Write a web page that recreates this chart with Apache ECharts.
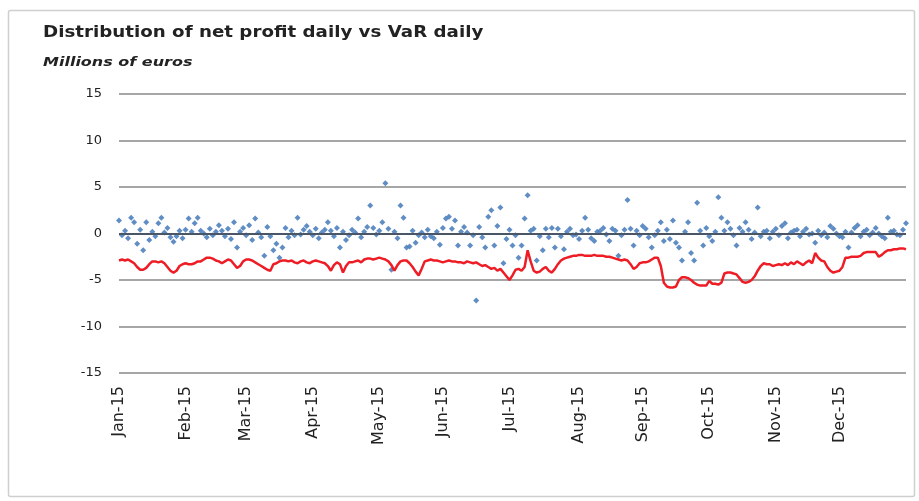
<!DOCTYPE html>
<html>
<head>
<meta charset="utf-8">
<title>Distribution of net profit daily vs VaR daily</title>
<script src="https://cdn.jsdelivr.net/npm/echarts@6/dist/echarts.min.js"></script>
<style>
    html, body { margin: 0; padding: 0; background: #fff; }
    #chart { width: 919px; height: 501px; }
</style>
</head>
<body>
<div id="chart"></div>
<script>
    // trading days of 2015 (weekdays), label format "Jan-15"
    var monthNames = ["Jan", "Feb", "Mar", "Apr", "May", "Jun", "Jul", "Aug", "Sep", "Oct", "Nov", "Dec"];
    var days = [];
    var monthStarts = [];
    (function () {
        var d = new Date(2015, 0, 1);
        var lastMonth = -1;
        while (d.getFullYear() === 2015) {
            var wd = d.getDay();
            if (wd !== 0 && wd !== 6) {
                if (d.getMonth() !== lastMonth) {
                    monthStarts.push(days.length);
                    lastMonth = d.getMonth();
                }
                days.push(monthNames[d.getMonth()] + "-15");
            }
            d.setDate(d.getDate() + 1);
        }
    })();

    // daily net profit (millions of euros)
    var netProfit = [
        1.4, -0.2, 0.3, -0.5, 1.7, 1.2, -1.1, 0.4, -1.8, 1.2,
        -0.7, 0.2, -0.3, 1.1, 1.7, 0.1, 0.6, -0.4, -0.9, -0.3,
        0.3, -0.5, 0.4, 1.6, 0.2, 1.1, 1.7, 0.3, 0.0, -0.4,
        0.5, -0.2, 0.2, 0.9, 0.3, -0.3, 0.5, -0.6, 1.2, -1.5,
        0.2, 0.6, -0.2, 0.9, -0.7, 1.6, 0.1, -0.4, -2.4, 0.7,
        -0.3, -1.8, -1.1, -2.6, -1.5, 0.6, -0.4, 0.3, -0.2, 1.7,
        -0.1, 0.4, 0.8, 0.2, -0.2, 0.5, -0.5, 0.1, 0.4, 1.2,
        0.3, -0.3, 0.6, -1.5, 0.2, -0.7, -0.2, 0.4, 0.1, 1.6,
        -0.4, 0.2, 0.7, 3.0, 0.6, -0.1, 0.3, 1.2, 5.4, 0.5,
        -3.9, 0.2, -0.5, 3.0, 1.7, -1.5, -1.4, 0.3, -1.0, -0.2,
        0.1, -0.4, 0.4, -0.3, -0.5, 0.2, -1.2, 0.6, 1.6, 1.8,
        0.5, 1.4, -1.3, 0.2, 0.7, 0.1, -1.3, -0.2, -7.2, 0.7,
        -0.4, -1.5, 1.8, 2.5, -1.3, 0.8, 2.8, -3.2, -0.6, 0.4,
        -1.3, -0.2, -2.6, -1.3, 1.6, 4.1, 0.3, 0.5, -2.9, -0.3,
        -1.8, 0.5, -0.4, 0.6, -1.5, 0.5, -0.3, -1.7, 0.2, 0.5,
        -0.2, -0.1, -0.6, 0.3, 1.7, 0.4, -0.5, -0.8, 0.2, 0.3,
        0.6, -0.1, -0.8, 0.5, 0.3, -2.4, -0.2, 0.4, 3.6, 0.5,
        -1.3, 0.3, -0.2, 0.8, 0.5, -0.4, -1.5, -0.2, 0.3, 1.2,
        -0.8, 0.4, -0.6, 1.4, -1.0, -1.5, -2.9, 0.2, 1.2, -2.1,
        -2.9, 3.3, 0.3, -1.3, 0.6, -0.3, -0.8, 0.2, 3.9, 1.7,
        0.3, 1.2, 0.5, -0.2, -1.3, 0.6, 0.2, 1.2, 0.4, -0.6,
        0.1, 2.8, -0.3, 0.2, 0.3, -0.5, 0.2, 0.5, -0.2, 0.8,
        1.1, -0.5, 0.1, 0.3, 0.4, -0.3, 0.2, 0.5, -0.1, 0.0,
        -1.0, 0.3, -0.2, 0.1, -0.4, 0.8, 0.5, 0.0, -0.3, -0.4,
        0.2, -1.5, 0.1, 0.6, 0.9, -0.3, 0.2, 0.4, -0.2, 0.1,
        0.6, 0.0, -0.3, -0.5, 1.7, 0.2, 0.3, -0.1, -0.2, 0.4, 1.1
    ];

    // daily VaR (millions of euros)
    var varDaily = [
        -2.9, -2.8, -2.9, -2.8, -3.0, -3.2, -3.6, -3.9, -3.9, -3.7,
        -3.3, -3.0, -3.0, -3.1, -3.0, -3.2, -3.6, -4.0, -4.2, -4.0,
        -3.5, -3.3, -3.2, -3.3, -3.3, -3.2, -3.0, -3.0, -2.8, -2.6,
        -2.6, -2.7, -2.9, -3.0, -3.2, -3.0, -2.8, -2.9, -3.3, -3.7,
        -3.5, -3.0, -2.8, -2.8, -2.9, -3.1, -3.3, -3.5, -3.7, -3.9,
        -4.0, -3.3, -3.2, -3.0, -2.9, -2.9, -3.0, -2.9, -3.1, -3.2,
        -3.0, -2.9, -3.1, -3.2, -3.0, -2.9, -3.0, -3.1, -3.2, -3.5,
        -4.0, -3.4, -3.1, -3.3, -4.2, -3.5, -3.1, -3.1, -3.0, -2.9,
        -3.1, -2.8, -2.7, -2.7, -2.8, -2.7, -2.6, -2.7, -2.8, -3.0,
        -3.4, -4.0, -3.4, -3.0, -2.9, -2.9, -3.2, -3.6, -4.1, -4.5,
        -3.8, -3.0, -2.9, -2.8, -2.9, -2.9, -3.0, -3.1, -3.0, -2.9,
        -3.0, -3.0, -3.1, -3.1, -3.2, -3.0, -3.1, -3.2, -3.1, -3.3,
        -3.5, -3.4, -3.6, -3.8, -3.7, -4.0, -3.8, -4.2, -4.6, -5.0,
        -4.5, -3.9, -3.8, -4.0, -3.6, -1.8, -3.0, -4.0, -4.2, -4.1,
        -3.8, -3.6, -4.0, -4.2, -3.8, -3.3, -2.9, -2.7, -2.6, -2.5,
        -2.4, -2.4, -2.3, -2.3, -2.4, -2.4, -2.4, -2.3, -2.4, -2.4,
        -2.4, -2.5, -2.5, -2.6, -2.7, -2.8, -2.9, -2.8, -2.9, -3.3,
        -3.8, -3.6, -3.2, -3.1, -3.1, -3.0, -2.8, -2.6, -2.6, -3.5,
        -5.3, -5.7, -5.8, -5.8, -5.7, -5.0, -4.7, -4.7, -4.8, -5.0,
        -5.3, -5.5, -5.6, -5.6, -5.6, -5.1, -5.4, -5.4, -5.5, -5.3,
        -4.3, -4.2, -4.2, -4.3, -4.4, -4.8, -5.2, -5.3, -5.2, -5.0,
        -4.6, -4.0, -3.5, -3.2, -3.3, -3.3, -3.5, -3.4, -3.3, -3.4,
        -3.2, -3.4, -3.1, -3.3, -3.0, -3.2, -3.4, -3.1, -2.9, -3.2,
        -2.1, -2.6, -2.9, -3.0, -3.6, -4.0, -4.2, -4.1, -4.0, -3.6,
        -2.6, -2.6, -2.5, -2.5, -2.5, -2.4, -2.1, -2.0, -2.0, -2.0,
        -2.0, -2.5, -2.3, -2.0, -1.8, -1.8, -1.7, -1.7, -1.6, -1.6, -1.7
    ];

    var yTicks = { min: -15, max: 15, interval: 5 };

    var chartDom = document.getElementById("chart");
    var myChart = echarts.init(chartDom);

    var font = "DejaVu Sans";

    var option = {
        backgroundColor: "#fff",
        animation: false,
        textStyle: { fontFamily: font },
        graphic: [
            {
                type: "rect",
                left: 6,
                top: 8,
                shape: { width: 906, height: 486, r: 2 },
                style: { fill: "none", stroke: "#cfcfcf", lineWidth: 1.5 },
                silent: true
            },
            // title and unit, stretched wide like the original
            {
                type: "text",
                x: 43,
                y: 25,
                scaleX: 1.14,
                silent: true,
                style: {
                    text: "Distribution of net profit daily vs VaR daily",
                    font: "bold 16px 'DejaVu Sans'",
                    fill: "#222",
                    verticalAlign: "top"
                }
            },
            {
                type: "text",
                x: 43,
                y: 56,
                scaleX: 1.28,
                silent: true,
                style: {
                    text: "Millions of euros",
                    font: "italic bold 12.5px 'DejaVu Sans'",
                    fill: "#222",
                    verticalAlign: "top"
                }
            }
        ],
        grid: {
            left: 119,
            right: 13,
            top: 94,
            bottom: 128,
            containLabel: false
        },
        xAxis: {
            type: "category",
            data: days,
            boundaryGap: false,
            axisLine: { show: false },
            axisTick: { show: false },
            splitLine: { show: false },
            axisLabel: {
                rotate: 90,
                margin: 13,
                fontSize: 16,
                color: "#222",
                fontFamily: font,
                interval: function (index) {
                    return monthStarts.indexOf(index) !== -1;
                }
            }
        },
        yAxis: {
            type: "value",
            min: yTicks.min,
            max: yTicks.max,
            interval: yTicks.interval,
            axisLine: { show: false },
            axisTick: { show: false },
            axisLabel: {
                margin: 17,
                fontSize: 13,
                color: "#222",
                fontFamily: font
            },
            splitLine: {
                lineStyle: { color: "#a6a6a6", width: 2 }
            }
        },
        series: [
            {
                name: "Net profit daily",
                type: "scatter",
                data: netProfit,
                symbol: "diamond",
                symbolSize: 6,
                itemStyle: { color: "#4f81bd", opacity: 0.9 },
                markLine: {
                    silent: true,
                    symbol: "none",
                    label: { show: false },
                    lineStyle: { color: "#4a5566", width: 2, type: "solid" },
                    data: [{ yAxis: 0 }]
                },
                z: 2
            },
            {
                name: "VaR daily",
                type: "line",
                data: varDaily,
                showSymbol: false,
                symbol: "none",
                lineStyle: { color: "#ee1c25", width: 2.5 },
                z: 3
            }
        ]
    };

    option && myChart.setOption(option);
</script>
</body>
</html>
